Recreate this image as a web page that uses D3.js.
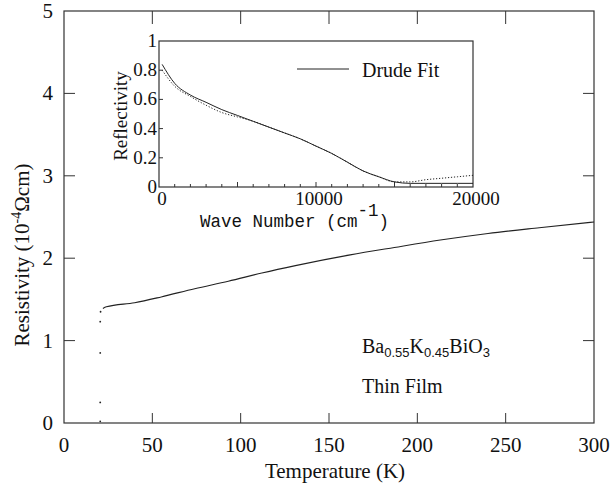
<!DOCTYPE html>
<html>
<head>
<meta charset="utf-8">
<script src="https://cdn.jsdelivr.net/npm/d3@7"></script>
<style>
  body { margin: 0; background: #fff; }
  svg text { font-family: "Liberation Serif", "Times New Roman", "DejaVu Serif", serif; fill: #111; }
  svg text.mono { font-family: "Liberation Mono", "Courier New", monospace; }
</style>
</head>
<body>
<svg id="chart"></svg>
<script>
// main plot: resistivity vs temperature
const tempK = [22, 24, 40, 55, 74, 93, 112, 131, 162, 187, 213, 240, 269, 300];
const rho = [1.39, 1.41, 1.46, 1.53, 1.63, 1.72, 1.82, 1.91, 2.04, 2.13, 2.22, 2.30, 2.37, 2.44];
// transition points near Tc
const tcTemp = [20.5, 20.5, 20.5, 20.5, 20.7];
const tcRho = [0.02, 0.25, 0.85, 1.23, 1.35];

// inset: reflectivity vs wave number
const waveNum = [200, 1000, 2000, 3000, 4000, 5000, 6000, 7000, 8000, 9000, 10000,
                 11000, 12000, 13000, 14000, 15000, 16000, 17000, 18000, 19000, 20000];
const drudeFit = [0.84, 0.71, 0.63, 0.58, 0.53, 0.49, 0.45, 0.41, 0.37, 0.33, 0.28,
                  0.23, 0.17, 0.11, 0.07, 0.035, 0.025, 0.025, 0.025, 0.025, 0.025];
const measured = [0.80, 0.69, 0.62, 0.56, 0.51, 0.48, 0.45, 0.41, 0.37, 0.33, 0.28,
                  0.23, 0.17, 0.11, 0.07, 0.035, 0.035, 0.05, 0.06, 0.07, 0.08];

const xTicks = [0, 50, 100, 150, 200, 250, 300];
const yTicks = [0, 1, 2, 3, 4, 5];
const insetXTicks = [0, 10000, 20000];
const insetYTicks = [0, 0.2, 0.4, 0.6, 0.8, 1];

const w = 616, h = 486;
const serif = "'Liberation Serif', 'Times New Roman', serif";
const svg = d3.select("#chart").attr("width", w).attr("height", h)
              .attr("font-family", serif);

const x = d3.scaleLinear().domain([0, 300]).range([64, 594]);
const y = d3.scaleLinear().domain([0, 5]).range([423, 11]);

const ink = "#222";

// frame
svg.append("rect")
   .attr("x", x(0)).attr("y", y(5))
   .attr("width", x(300) - x(0)).attr("height", y(0) - y(5))
   .attr("fill", "none").attr("stroke", "#333").attr("stroke-width", 1.2);

// inward ticks
const xIn = [50, 100, 150, 200, 250];
const yIn = [1, 2, 3, 4];
svg.selectAll(".xb").data(xIn).enter().append("line")
   .attr("x1", d => x(d)).attr("x2", d => x(d))
   .attr("y1", y(0)).attr("y2", y(0) - 10)
   .attr("stroke", "#333");
svg.selectAll(".xt").data(xIn).enter().append("line")
   .attr("x1", d => x(d)).attr("x2", d => x(d))
   .attr("y1", y(5)).attr("y2", y(5) + 13)
   .attr("stroke", "#333");
svg.selectAll(".yl").data(yIn).enter().append("line")
   .attr("x1", x(0)).attr("x2", x(0) + 11)
   .attr("y1", d => y(d)).attr("y2", d => y(d))
   .attr("stroke", "#333");
svg.selectAll(".yr").data(yIn).enter().append("line")
   .attr("x1", x(300)).attr("x2", x(300) - 11)
   .attr("y1", d => y(d)).attr("y2", d => y(d))
   .attr("stroke", "#333");

// tick labels
svg.selectAll(".xl").data(xTicks).enter().append("text")
   .attr("x", d => x(d)).attr("y", 452)
   .attr("text-anchor", "middle").attr("font-size", 21)
   .text(d => d);
svg.selectAll(".ylb").data(yTicks).enter().append("text")
   .attr("x", 53).attr("y", d => y(d) + 7)
   .attr("text-anchor", "end").attr("font-size", 21)
   .text(d => d);

// axis titles
svg.append("text")
   .attr("x", 335).attr("y", 478)
   .attr("text-anchor", "middle").attr("font-size", 21)
   .text("Temperature (K)");

const yt = svg.append("text")
   .attr("transform", "translate(29,255) rotate(-90)")
   .attr("text-anchor", "middle").attr("font-size", 21);
yt.append("tspan").text("Resistivity (10");
yt.append("tspan").attr("dy", -8).attr("font-size", 14).text("-4");
yt.append("tspan").attr("dy", 8).text("Ωcm)");

// resistivity curve
const line = d3.line().x(d => x(d[0])).y(d => y(d[1])).curve(d3.curveMonotoneX);
svg.append("path")
   .datum(d3.zip(tempK, rho))
   .attr("d", line)
   .attr("fill", "none").attr("stroke", ink).attr("stroke-width", 1.1);
svg.selectAll(".tc").data(d3.zip(tcTemp, tcRho)).enter().append("circle")
   .attr("cx", d => x(d[0])).attr("cy", d => y(d[1]))
   .attr("r", 0.9).attr("fill", ink);

// annotations
const sans = "'Liberation Sans', sans-serif";
const comp = svg.append("text").attr("x", 362).attr("y", 353).attr("font-size", 20);
comp.append("tspan").text("Ba");
comp.append("tspan").attr("dy", 4).attr("font-size", 13).attr("font-family", sans).text("0.55");
comp.append("tspan").attr("dy", -4).text("K");
comp.append("tspan").attr("dy", 4).attr("font-size", 13).attr("font-family", sans).text("0.45");
comp.append("tspan").attr("dy", -4).text("BiO");
comp.append("tspan").attr("dy", 4).attr("font-size", 13).attr("font-family", sans).text("3");
svg.append("text").attr("x", 362).attr("y", 393).attr("font-size", 20).text("Thin Film");

// ---- inset ----
const ix = d3.scaleLinear().domain([0, 20000]).range([159, 473]);
const iy = d3.scaleLinear().domain([0, 1]).range([187, 41]);

svg.append("rect")
   .attr("x", ix(0)).attr("y", iy(1))
   .attr("width", ix(20000) - ix(0)).attr("height", iy(0) - iy(1))
   .attr("fill", "#fff").attr("stroke", "#333").attr("stroke-width", 1.2);

svg.selectAll(".ixt").data(d3.range(1000, 20000, 1000)).enter().append("line")
   .attr("x1", d => ix(d)).attr("x2", d => ix(d))
   .attr("y1", iy(0)).attr("y2", d => iy(0) - (d % 5000 === 0 ? 5 : 3))
   .attr("stroke", "#333");
svg.selectAll(".iyt").data([0.2, 0.4, 0.6, 0.8]).enter().append("line")
   .attr("x1", ix(0)).attr("x2", ix(0) + 4)
   .attr("y1", d => iy(d)).attr("y2", d => iy(d))
   .attr("stroke", "#333");

svg.selectAll(".ixl").data(insetXTicks).enter().append("text")
   .attr("x", d => ix(d) + 3).attr("y", 205)
   .attr("text-anchor", "middle").attr("font-size", 19)
   .text(d => d);
svg.selectAll(".iyl").data(insetYTicks).enter().append("text")
   .attr("x", 157).attr("y", d => iy(d) + 6)
   .attr("text-anchor", "end").attr("font-size", 19)
   .text(d => d);

svg.append("text")
   .attr("transform", "translate(127,116) rotate(-90)")
   .attr("text-anchor", "middle").attr("font-size", 19)
   .text("Reflectivity");

const mono = "'Liberation Mono', 'Courier New', monospace";
const ixt = svg.append("text").attr("class", "mono").attr("font-family", mono)
   .attr("x", 200).attr("y", 227).attr("font-size", 17.5);
ixt.append("tspan").text("Wave Number (cm");
ixt.append("tspan").attr("dy", -11).text("-1");
ixt.append("tspan").attr("dy", 11).text(")");

const iline = d3.line().x(d => ix(d[0])).y(d => iy(d[1])).curve(d3.curveMonotoneX);
svg.append("path")
   .datum(d3.zip(waveNum, measured))
   .attr("d", iline)
   .attr("fill", "none").attr("stroke", ink).attr("stroke-width", 1)
   .attr("stroke-dasharray", "1.2,1.8");
svg.append("path")
   .datum(d3.zip(waveNum, drudeFit))
   .attr("d", iline)
   .attr("fill", "none").attr("stroke", ink).attr("stroke-width", 1);

// legend
svg.append("line")
   .attr("x1", 297).attr("x2", 349).attr("y1", 69).attr("y2", 69)
   .attr("stroke", ink);
svg.append("text").attr("x", 362).attr("y", 77).attr("font-size", 20).text("Drude Fit");
</script>
</body>
</html>
